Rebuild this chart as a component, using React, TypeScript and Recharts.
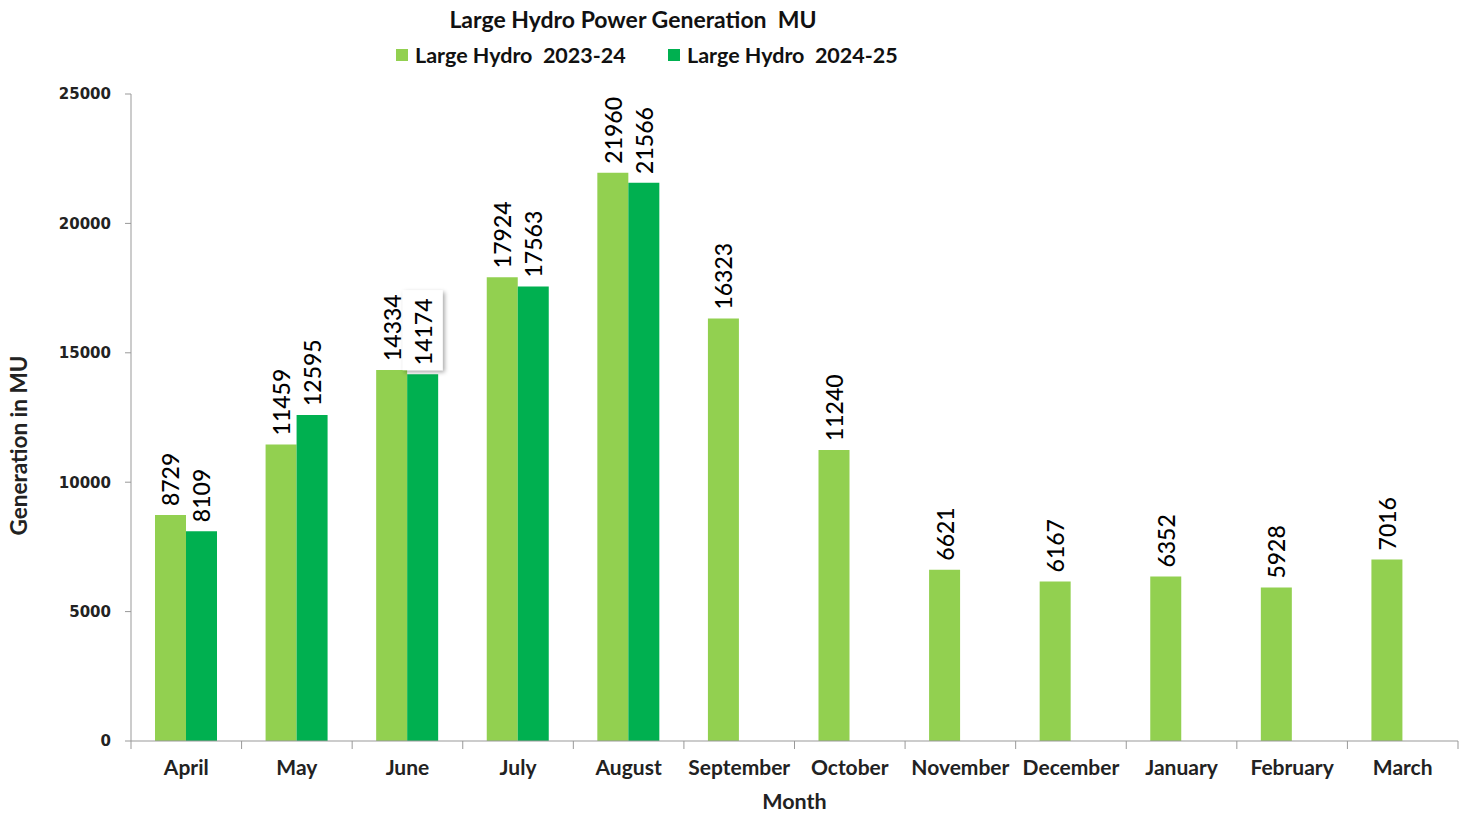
import React from "react";
import { BarChart, Bar, XAxis, YAxis, Label } from "recharts";

const months = ["April", "May", "June", "July", "August", "September", "October", "November", "December", "January", "February", "March"];
const hydro2324 = [8729, 11459, 14334, 17924, 21960, 16323, 11240, 6621, 6167, 6352, 5928, 7016];
const hydro2425: (number | null)[] = [8109, 12595, 14174, 17563, 21566, null, null, null, null, null, null, null];
const yTicks = [0, 5000, 10000, 15000, 20000, 25000];
const seriesNames = ["Large Hydro  2023-24", "Large Hydro  2024-25"];
const seriesColors = ["#92D050", "#00B050"];

const data = months.map((m, i) => ({ month: m, a: hydro2324[i], b: hydro2425[i] }));

const FONT = "Lato, 'Open Sans', sans-serif";
const TICK_MARGIN = 19;

const makeLabel = (boxed: number | null) => (props: any) => {
  const { x, y, width, value, index } = props;
  if (value === null || value === undefined) return null;
  const cx = x + width / 2;
  const cy = y - 9;
  const box = boxed !== null && index === boxed;
  return (
    <g>
      {box && (
        <rect x={cx - 20} y={cy - 75} width={40} height={80} fill="#fff" filter="url(#shadow)" />
      )}
      <text
        x={cx}
        y={cy}
        transform={`rotate(-90, ${cx}, ${cy})`}
        textAnchor="start"
        dominantBaseline="central"
        fontFamily={FONT}
        fontSize={23}
        fontWeight={500}
        fill="#000"
      >
        {String(value)}
      </text>
    </g>
  );
};

const MonthTick = (props: any) => {
  const { x, y, payload, index, visibleTicksCount } = props;
  const half = payload && payload.offset ? payload.offset : 1327 / 24;
  const axisY = y - TICK_MARGIN;
  const last = index === (visibleTicksCount ?? months.length) - 1;
  return (
    <g>
      <line x1={x - half} x2={x - half} y1={axisY} y2={axisY + 8} stroke="#999" />
      {last && <line x1={x + half} x2={x + half} y1={axisY} y2={axisY + 8} stroke="#999" />}
      <text
        x={x}
        y={y}
        dy="0.71em"
        textAnchor="middle"
        fontFamily={FONT}
        fontWeight={700}
        fontSize={21}
        fill="#222"
      >
        {payload.value}
      </text>
    </g>
  );
};

export default function App() {
  return (
    <div style={{ position: "absolute", left: 0, top: 0, width: 1467, height: 814, background: "#fff" }}>
      <div
        style={{
          position: "absolute",
          left: 0,
          width: 1266,
          top: 5,
          textAlign: "center",
          fontFamily: FONT,
          fontWeight: 700,
          fontSize: 23,
          color: "#111",
          whiteSpace: "pre",
        }}
      >
        {"Large Hydro Power Generation  MU"}
      </div>
      {[396, 668].map((left, i) => (
        <div
          key={i}
          style={{
            position: "absolute",
            left,
            top: 42,
            display: "flex",
            alignItems: "center",
            fontFamily: FONT,
            fontWeight: 700,
            fontSize: 21.5,
            color: "#111",
            whiteSpace: "pre",
          }}
        >
          <span style={{ width: 12, height: 12, background: seriesColors[i], display: "inline-block", marginRight: 7 }} />
          <span>{seriesNames[i]}</span>
        </div>
      ))}
      <BarChart
        width={1467}
        height={814}
        data={data}
        margin={{ top: 94, right: 9, bottom: 0, left: 61 }}
        barGap={0}
        barSize={31}
      >
        <defs>
          <filter id="shadow" x="-30%" y="-30%" width="160%" height="160%">
            <feDropShadow dx="2" dy="2" stdDeviation="2" floodColor="#000" floodOpacity="0.35" />
          </filter>
        </defs>
        <XAxis
          dataKey="month"
          interval={0}
          tickLine={false}
          axisLine={{ stroke: "#999" }}
          tickSize={0}
          tickMargin={TICK_MARGIN}
          height={73}
          tick={<MonthTick />}
        >
          <Label
            value="Month"
            position="insideBottom"
            offset={5}
            style={{ fontFamily: FONT, fontWeight: 700, fontSize: 21.5, fill: "#222" }}
          />
        </XAxis>
        <YAxis
          domain={[0, 25000]}
          ticks={yTicks}
          width={70}
          tickLine={{ stroke: "#999" }}
          axisLine={{ stroke: "#999" }}
          tickSize={6}
          tickMargin={14}
          tick={{ fontFamily: "'DejaVu Sans', sans-serif", fontWeight: 700, fontSize: 15, fill: "#222" }}
        >
          <Label
            content={(p: any) => {
              const vb = p.viewBox;
              const cx = 18;
              const cy = vb.y + vb.height / 2 + 28;
              return (
                <text
                  x={cx}
                  y={cy}
                  transform={`rotate(-90, ${cx}, ${cy})`}
                  textAnchor="middle"
                  dominantBaseline="central"
                  fontFamily={FONT}
                  fontWeight={700}
                  fontSize={22.5}
                  fill="#222"
                >
                  Generation in MU
                </text>
              );
            }}
          />
        </YAxis>
        <Bar dataKey="a" name={seriesNames[0]} fill={seriesColors[0]} isAnimationActive={false} label={makeLabel(null)} />
        <Bar dataKey="b" name={seriesNames[1]} fill={seriesColors[1]} isAnimationActive={false} label={makeLabel(2)} />
      </BarChart>
    </div>
  );
}
